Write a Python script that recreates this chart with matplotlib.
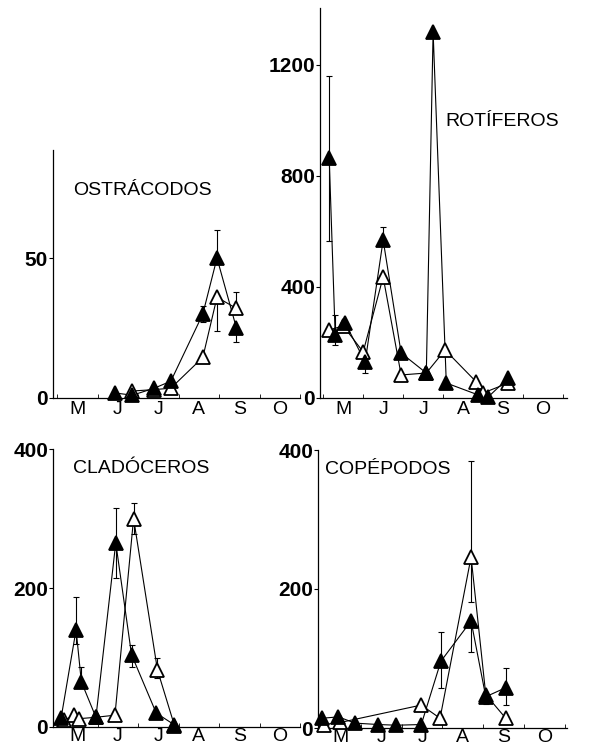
import numpy as np
import matplotlib
matplotlib.use("Agg")
import matplotlib.pyplot as plt

plt.rcParams["font.family"] = ["Liberation Sans", "DejaVu Sans"]

# month axis: 0 = start of May, labels at month centres
months = ["M", "J", "J", "A", "S", "O"]

# OSTRACODOS
ost_fill_x = [1.43, 1.86, 2.40, 2.81, 3.60, 3.95, 4.43]
ost_fill_y = [1.8, 1.0, 3.5, 6.0, 30.0, 50.0, 25.0]
ost_fill_lo = [0, 0, 0, 0, 3, 0, 5]
ost_fill_hi = [0, 0, 0, 0, 3, 10, 0]
ost_open_x = [1.86, 2.40, 2.81, 3.60, 3.95, 4.43]
ost_open_y = [2.5, 3.0, 3.5, 14.5, 36.0, 32.0]
ost_open_lo = [0, 0, 0, 0, 12, 0]
ost_open_hi = [0, 0, 0, 0, 0, 6]

# ROTIFEROS
rot_fill_x = [0.15, 0.30, 0.55, 1.05, 1.50, 1.95, 2.58, 2.75, 3.08, 3.88, 4.13, 4.63]
rot_fill_y = [865, 227, 270, 130, 569, 162, 90, 1319, 54, 11, 4, 72]
rot_fill_lo = [300, 36, 0, 40, 0, 0, 0, 0, 0, 0, 0, 0]
rot_fill_hi = [295, 72, 0, 0, 47, 0, 0, 0, 0, 0, 0, 0]
rot_open_x = [0.15, 0.50, 1.00, 1.50, 1.95, 2.58, 3.05, 3.83, 4.00, 4.63]
rot_open_y = [245, 260, 166, 436, 83, 90, 173, 58, 18, 54]

# CLADOCEROS
cla_fill_x = [0.10, 0.47, 0.60, 0.96, 1.45, 1.84, 2.45, 2.90]
cla_fill_y = [13, 140, 65, 14, 265, 104, 20, 3]
cla_fill_lo = [0, 20, 0, 0, 50, 18, 0, 0]
cla_fill_hi = [0, 47, 21, 0, 50, 14, 0, 0]
cla_open_x = [0.18, 0.43, 0.55, 0.96, 1.43, 1.89, 2.48, 2.90]
cla_open_y = [10, 17, 12, 14, 17, 300, 82, 2]
cla_open_lo = [0, 0, 0, 0, 0, 22, 12, 0]
cla_open_hi = [0, 0, 0, 0, 0, 22, 18, 0]

# COPEPODOS
cop_fill_x = [0.04, 0.45, 0.86, 1.43, 1.87, 2.48, 2.96, 3.70, 4.06, 4.55]
cop_fill_y = [14, 16, 7, 5, 4, 5, 96, 154, 45, 58]
cop_fill_lo = [0, 0, 0, 0, 0, 0, 38, 44, 10, 25]
cop_fill_hi = [0, 0, 0, 0, 0, 0, 42, 0, 0, 29]
cop_open_x = [0.09, 0.50, 2.48, 2.94, 3.70, 4.06, 4.55]
cop_open_y = [5, 8, 33, 14, 246, 48, 14]
cop_open_lo = [0, 0, 0, 0, 65, 0, 0]
cop_open_hi = [0, 0, 0, 0, 138, 0, 0]


def draw_series(ax, x, y, filled, lo=None, hi=None):
    face = "black" if filled else "white"
    ax.plot(x, y, color="black", lw=0.8, zorder=3 if filled else 2)
    if lo is not None:
        ax.errorbar(x, y, yerr=[lo, hi], fmt="none", ecolor="black",
                    elinewidth=0.8, capsize=2, capthick=0.8, zorder=1)
    ax.plot(x, y, ls="none", marker="^", ms=10, mfc=face, mec="black",
            mew=1.3, zorder=5 if filled else 4, clip_on=False)


def style_axes(ax, xlim, ylim, yticks, xpad=3):
    ax.set_xlim(*xlim)
    ax.set_ylim(*ylim)
    for s in ["top", "right"]:
        ax.spines[s].set_visible(False)
    for s in ["left", "bottom"]:
        ax.spines[s].set_linewidth(0.9)
    ax.set_xticks(np.arange(6) + 0.5)
    ax.set_xticklabels(months, fontsize=14)
    ax.set_xticks(np.arange(0, 7), minor=True)
    ax.tick_params(axis="x", which="major", length=0, pad=xpad)
    ax.tick_params(axis="x", which="minor", length=3, direction="in")
    ax.set_yticks(yticks)
    ax.set_yticklabels([str(v) for v in yticks], fontsize=15,
                       fontweight="bold")
    ax.tick_params(axis="y", length=3, direction="out", pad=0.5)


fig = plt.figure(figsize=(5.91, 7.5), dpi=100)
W, H = 591.0, 750.0


def make_axes(left, bottom, right, top):
    return fig.add_axes([left / W, 1 - bottom / H, (right - left) / W,
                         (bottom - top) / H])


ax1 = make_axes(53, 398, 300, 150)
draw_series(ax1, ost_open_x, ost_open_y, False, ost_open_lo, ost_open_hi)
draw_series(ax1, ost_fill_x, ost_fill_y, True, ost_fill_lo, ost_fill_hi)
style_axes(ax1, (-0.1, 5.8), (0, 88.6), [0, 50], xpad=2)
ax1.text(0.081, 0.818, "OSTRÁCODOS", transform=ax1.transAxes, fontsize=14)

ax2 = make_axes(320, 398, 567, 8)
draw_series(ax2, rot_open_x, rot_open_y, False)
draw_series(ax2, rot_fill_x, rot_fill_y, True, rot_fill_lo, rot_fill_hi)
style_axes(ax2, (-0.08, 6.1), (0, 1405), [0, 400, 800, 1200], xpad=2)
ax2.text(0.506, 0.697, "ROTÍFEROS", transform=ax2.transAxes, fontsize=14)

ax3 = make_axes(53, 727, 300, 449)
draw_series(ax3, cla_open_x, cla_open_y, False, cla_open_lo, cla_open_hi)
draw_series(ax3, cla_fill_x, cla_fill_y, True, cla_fill_lo, cla_fill_hi)
style_axes(ax3, (-0.1, 5.8), (0, 400), [0, 200, 400], xpad=0.5)
ax3.text(0.081, 0.914, "CLADÓCEROS", transform=ax3.transAxes, fontsize=14)

ax4 = make_axes(318, 728, 567, 450)
draw_series(ax4, cop_open_x, cop_open_y, False, cop_open_lo, cop_open_hi)
draw_series(ax4, cop_fill_x, cop_fill_y, True, cop_fill_lo, cop_fill_hi)
style_axes(ax4, (-0.05, 6.05), (0, 400), [0, 200, 400], xpad=0.5)
ax4.text(0.028, 0.914, "COPÉPODOS", transform=ax4.transAxes, fontsize=14)

fig.savefig("out.png", dpi=100)
